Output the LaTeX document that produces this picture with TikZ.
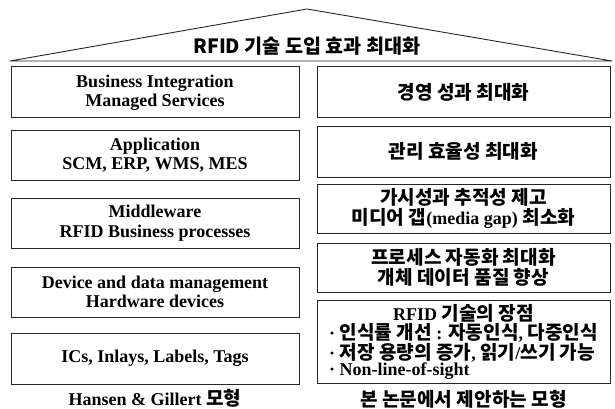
\documentclass[tikz,border=0pt]{standalone}
\usepackage{fontspec}
\setmainfont{Liberation Serif}
\newfontfamily\kr[Scale=1.06]{Noto Sans CJK KR}
\newcommand{\ko}[1]{{\kr #1}}
\newcommand{\tightlines}{\lineskiplimit=-20pt\relax}
\newcommand{\rowstrut}{\rule[-3.5pt]{0pt}{16.5pt}}

\begin{document}
\begin{tikzpicture}[x=1pt, y=-1pt,
    layer/.style={draw=black!85, line width=1pt, fill=white, inner sep=0pt,
        minimum width=288pt, minimum height=50pt, align=center,
        font=\fontsize{18}{19.5}\selectfont\bfseries\tightlines},
    effect/.style={draw=black!85, line width=1pt, fill=white, inner sep=0pt,
        minimum width=293pt, minimum height=50pt, align=center,
        font=\fontsize{18}{20.5}\selectfont\bfseries\tightlines}]
    \useasboundingbox (0,0) rectangle (615,409);
    % Roof with the overall goal
    \draw[black!85, line width=0.9pt] (10,61) -- (307,9) -- (612,61) -- cycle;
    \node (goal) at (307,46) {\fontsize{18.5}{20}\selectfont\kr\bfseries RFID 기술 도입 효과 최대화};
    % Left column: Hansen & Gillert layers
    \node[layer, minimum height=51pt] (business) at (155,92.5) {Business Integration\\Managed Services};
    \node[layer] (application) at (155,155) {Application\\SCM, ERP, WMS, MES};
    \node[layer] (middleware) at (155,223) {Middleware\\RFID Business processes};
    \node[layer] (device) at (155,292) {Device and data management\\Hardware devices};
    \node[layer, minimum height=51pt] (tags) at (155,358.5) {ICs, Inlays, Labels, Tags};
    \node[font=\fontsize{18}{20}\selectfont\bfseries] (leftcap) at (155,398) {Hansen \& Gillert \ko{모형}};
    % Right column: proposed model
    \node[effect, minimum height=51pt] (performance) at (463.5,92.5) {\ko{경영 성과 최대화}};
    \node[effect, minimum height=51pt] (efficiency) at (463.5,151.5) {\ko{관리 효율성 최대화}};
    \node[effect, minimum height=49pt] (visibility) at (463.5,208.5) {\ko{가시성과 추적성 제고}\\\ko{미디어 갭}(media gap) \ko{최소화}};
    \node[effect, minimum height=49pt] (automation) at (463.5,267.5) {\ko{프로세스 자동화 최대화}\\\ko{개체 데이터 품질 향상}};
    \node[effect, minimum height=83pt] (advantage) at (463.5,342) {%
        \lineskiplimit=0pt\renewcommand{\arraystretch}{0}%
        \begin{tabular}{@{}l@{}}
            \multicolumn{1}{@{}c@{}}{\rowstrut RFID \ko{기술의 장점}}\\
            \rowstrut · \ko{인식률 개선} : \ko{자동인식}, \ko{다중인식}\\
            \rowstrut · \ko{저장 용량의 증가}, \ko{읽기}/\ko{쓰기 가능}\\
            \rowstrut · Non-line-of-sight
        \end{tabular}};
    \node[font=\fontsize{18}{20}\selectfont\bfseries] (rightcap) at (463.5,399) {\ko{본 논문에서 제안하는 모형}};
\end{tikzpicture}
\end{document}
